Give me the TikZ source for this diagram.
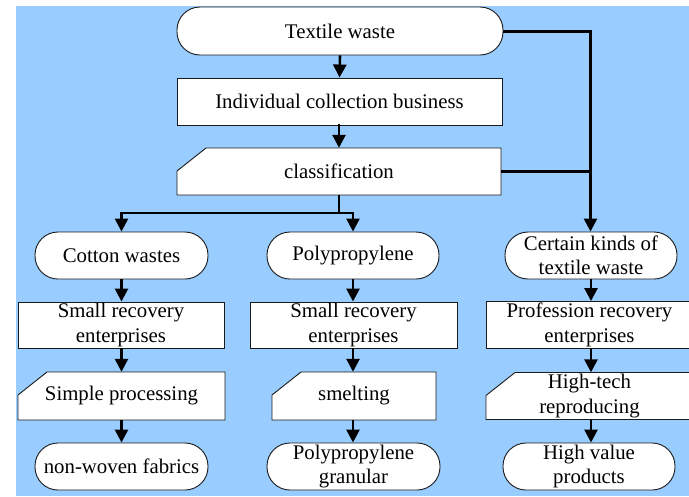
\documentclass[tikz,border=0pt]{standalone}
\usepackage{fontspec}
\setmainfont{Liberation Serif}
\usetikzlibrary{arrows.meta}
\definecolor{bgblue}{HTML}{99CCFF}
\definecolor{edge}{HTML}{1A1A1A}
\tikzset{
  boxline/.style={draw=edge, line width=0.9pt, fill=white},
  txt/.style={inner sep=0pt, align=center, font=\fontsize{20.8}{24.5}\selectfont},
  stadium/.style={txt, boxline, rectangle, rounded corners=23pt},
  plainbox/.style={txt, boxline, rectangle},
  arr/.style={line width=2.6pt, -{Triangle[width=13pt,length=13pt]}},
  conn/.style={line width=2.6pt},
}
% name, cx, cy, w, h, text  (y grows downward)
\newcommand\cutbox[6]{%
  \draw[boxline] ({#2-#4/2},{#3+#5/2}) -- ({#2+#4/2},{#3+#5/2}) -- ({#2+#4/2},{#3-#5/2})
     -- ({#2-#4/2+29},{#3-#5/2}) -- ({#2-#4/2},{#3-#5/2+23}) -- cycle;
  \node[txt, minimum width=#4pt, minimum height=#5pt] (#1) at (#2,#3) {#6};
}
\begin{document}
\begin{tikzpicture}[x=1pt,y=-1pt]
\useasboundingbox (0,0) rectangle (689,496);
\fill[white] (0,0) rectangle (689,496);
\fill[bgblue] (16,6) rectangle (689,496);

% top column
\node[stadium, minimum width=326pt, minimum height=48pt] (tw) at (340,31) {Textile waste};
\node[plainbox, minimum width=325pt, minimum height=47pt] (icb) at (339.5,101.5) {Individual collection business};
\cutbox{cls}{339}{171.5}{324}{47}{classification}

% second row
\node[stadium, minimum width=173pt, minimum height=47pt] (cot) at (121.5,255.5) {Cotton wastes};
\node[stadium, minimum width=172pt, minimum height=47pt] (pp) at (353,255.5) {Polypropylene};
\node[stadium, minimum width=172pt, minimum height=47pt] (ck) at (591,255.5) {Certain kinds of\\textile waste};

% third row
\node[plainbox, minimum width=206pt, minimum height=46pt] (sr1) at (121,325) {Small recovery\\enterprises};
\node[plainbox, minimum width=207pt, minimum height=46pt] (sr2) at (353.5,325) {Small recovery\\enterprises};
\node[plainbox, minimum width=207pt, minimum height=47pt] (pre) at (589.5,325) {Profession recovery\\enterprises};

% fourth row
\cutbox{sp}{121.5}{396}{207}{48}{Simple processing}
\cutbox{sm}{354}{396}{164}{48}{smelting}
\cutbox{ht}{589.5}{396}{207}{47}{High-tech\\reproducing}

% fifth row
\node[stadium, minimum width=173pt, minimum height=47pt] (nw) at (121.5,466.5) {non-woven fabrics};
\node[stadium, minimum width=173pt, minimum height=47pt] (ppg) at (353.5,466.5) {Polypropylene\\granular};
\node[stadium, minimum width=172pt, minimum height=47pt] (hv) at (589,466.5) {High value\\products};

% connectors
\coordinate (split) at (339,213);
\coordinate (rc) at (590.5,31.5);
\draw[arr] (tw.south) -- (icb.north);
\draw[arr] (icb.south) -- (cls.south |- icb.south) -- (cls.north);
\draw[conn] (cls.south) -- (split);
\draw[arr] (split) -| (cot.north);
\draw[arr] (split) -| (pp.north);
\draw[conn] (tw.east |- rc) -- ([xshift=1.3pt]rc);
\draw[arr] (rc) -- (rc |- ck.north);
\draw[conn] (cls.east) -- (cls.east -| rc);

\draw[arr] (cot.south) -- (cot.south |- sr1.north);
\draw[arr] (pp.south) -- (pp.south |- sr2.north);
\draw[arr] (ck.south) -- (ck.south |- pre.north);

\draw[arr] (cot.south |- sr1.south) -- (cot.south |- sp.north);
\draw[arr] (pp.south |- sr2.south) -- (pp.south |- sm.north);
\draw[arr] (ck.south |- pre.south) -- (ck.south |- ht.north);

\draw[arr] (cot.south |- sp.south) -- (nw.north);
\draw[arr] (pp.south |- sm.south) -- (pp.south |- ppg.north);
\draw[arr] (ck.south |- ht.south) -- (ck.south |- hv.north);
\end{tikzpicture}
\end{document}
